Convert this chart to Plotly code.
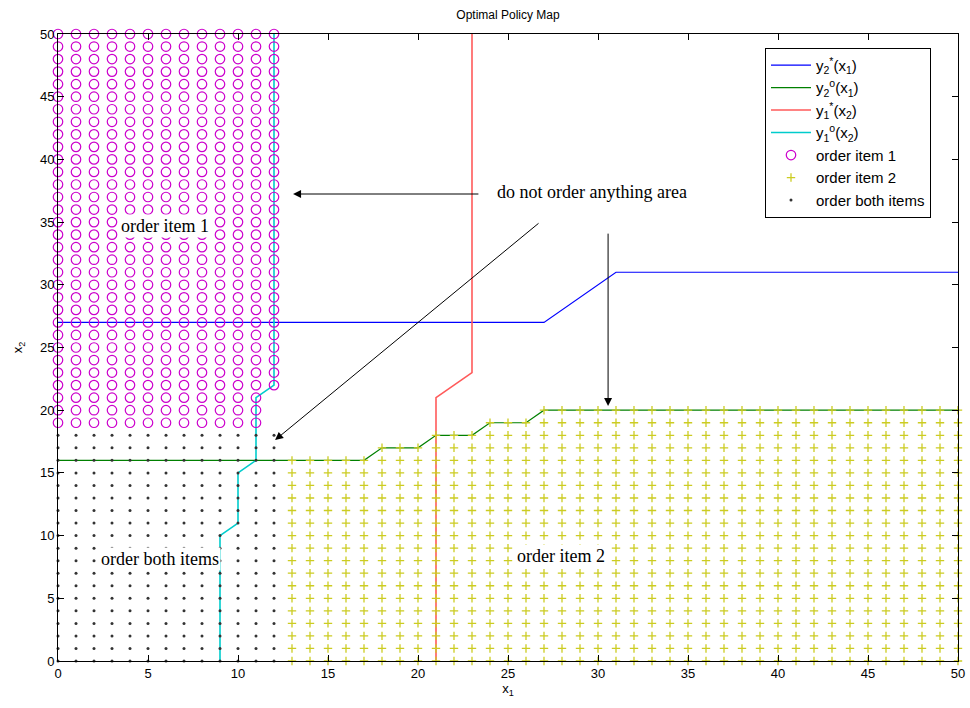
import plotly.graph_objects as go

# ---- data ----
# threshold curves
y2star_x = [0, 27, 31, 50]
y2star_y = [27, 27, 31, 31]
y2o_x = [0, 17, 18, 20, 21, 23, 24, 26, 27, 50]
y2o_y = [16, 16, 17, 17, 18, 18, 19, 19, 20, 20]
y1star_x = [21, 21, 23, 23]
y1star_y = [0, 21, 23, 50]
y1o_x = [9, 9, 10, 10, 11, 11, 12, 12]
y1o_y = [0, 10, 11, 15, 16, 21, 22, 50]

# policy regions on the integer grid (per column)
item1_cols = list(range(0, 13))
item1_ymin = [19] * 12 + [22]
item1_ymax = [50] * 13
both_cols = list(range(0, 13))
both_ymax = [18] * 13
item2_cols = list(range(13, 51))
item2_ymax = [16] * 5 + [17] * 3 + [18] * 3 + [19] * 3 + [20] * 24

xticks = [0, 5, 10, 15, 20, 25, 30, 35, 40, 45, 50]
yticks = [0, 5, 10, 15, 20, 25, 30, 35, 40, 45, 50]

# build point tables from the column lists
i1x, i1y = [], []
for c, lo, hi in zip(item1_cols, item1_ymin, item1_ymax):
    for v in range(lo, hi + 1):
        i1x.append(c); i1y.append(v)
bx, by = [], []
for c, hi in zip(both_cols, both_ymax):
    for v in range(0, hi + 1):
        bx.append(c); by.append(v)
i2x, i2y = [], []
for c, hi in zip(item2_cols, item2_ymax):
    for v in range(0, hi + 1):
        i2x.append(c); i2y.append(v)

fig = go.Figure()
fig.add_trace(go.Scatter(x=y2star_x, y=y2star_y, mode="lines",
                         line=dict(color="#0000ff", width=1.2),
                         name="y<sub>2</sub><sup>*</sup>(x<sub>1</sub>)"))
fig.add_trace(go.Scatter(x=y2o_x, y=y2o_y, mode="lines",
                         line=dict(color="#008000", width=1.2),
                         name="y<sub>2</sub><sup>o</sup>(x<sub>1</sub>)"))
fig.add_trace(go.Scatter(x=y1star_x, y=y1star_y, mode="lines",
                         line=dict(color="#ff5a5a", width=1.6),
                         name="y<sub>1</sub><sup>*</sup>(x<sub>2</sub>)"))
fig.add_trace(go.Scatter(x=y1o_x, y=y1o_y, mode="lines",
                         line=dict(color="#00cccc", width=1.6),
                         name="y<sub>1</sub><sup>o</sup>(x<sub>2</sub>)"))
fig.add_trace(go.Scatter(x=i1x, y=i1y, mode="markers", cliponaxis=False,
                         marker=dict(symbol="circle-open", size=9.5,
                                     color="#cc00cc", line=dict(width=1.2, color="#cc00cc")),
                         name="order item 1"))
fig.add_trace(go.Scatter(x=i2x, y=i2y, mode="markers", cliponaxis=False,
                         marker=dict(symbol="cross-thin", size=6,
                                     color="#cccc22", line=dict(width=1.3, color="#cccc22")),
                         name="order item 2"))
fig.add_trace(go.Scatter(x=bx, y=by, mode="markers", cliponaxis=False,
                         marker=dict(symbol="circle", size=3, color="#333333"),
                         name="order both items"))

serif = dict(family="Liberation Serif, Times New Roman, serif", size=18, color="black")
texts = [
    ("order item 1", 5.94, 34.7),
    ("order both items", 5.64, 8.13),
    ("order item 2", 27.95, 8.37),
    ("do not order anything area", 29.64, 37.4),
]
anns = []
for t, x, y in texts:
    anns.append(dict(x=x, y=y, xref="x", yref="y", text=t, showarrow=False,
                     font=serif, bgcolor="white", borderpad=1))
arrows = [
    (23.44, 37.24, 13.06, 37.24),
    (26.78, 35.0, 12.06, 17.62),
    (30.56, 34.2, 30.56, 20.33),
]
for ax, ay, x, y in arrows:
    anns.append(dict(x=x, y=y, ax=ax, ay=ay, xref="x", yref="y", axref="x", ayref="y",
                     text="", showarrow=True, arrowhead=2, arrowsize=1.6,
                     arrowwidth=1, arrowcolor="black"))

sans = dict(family="Liberation Sans, Arial, sans-serif", size=13, color="black")
fig.update_layout(
    width=970, height=708,
    margin=dict(l=58, r=12, t=34, b=47, autoexpand=False),
    paper_bgcolor="white", plot_bgcolor="white",
    font=sans,
    title=dict(text="Optimal Policy Map", x=0.5, xref="paper", y=1 - 15 / 708,
               yanchor="middle", font=dict(family="Liberation Sans, Arial, sans-serif", size=12)),
    showlegend=True,
    legend=dict(x=0.97, y=0.978, xanchor="right", yanchor="top",
                bordercolor="black", borderwidth=1, bgcolor="white",
                font=dict(family="Liberation Sans, Arial, sans-serif", size=15),
                tracegroupgap=0, itemwidth=40),
    annotations=anns,
)
fig.update_xaxes(range=[0, 50], tickvals=xticks, ticks="inside", ticklen=6,
                 showline=True, linecolor="black", linewidth=1, mirror="ticks",
                 showgrid=False, zeroline=False, tickcolor="black", automargin=False,
                 title=dict(text="x<sub>1</sub>", standoff=4, font=sans))
fig.update_yaxes(range=[0, 50], tickvals=yticks, ticks="inside", ticklen=6,
                 showline=True, linecolor="black", linewidth=1, mirror="ticks",
                 showgrid=False, zeroline=False, tickcolor="black", automargin=False,
                 title=dict(text="x<sub>2</sub>", standoff=14, font=sans))

fig.write_html("out.html")
